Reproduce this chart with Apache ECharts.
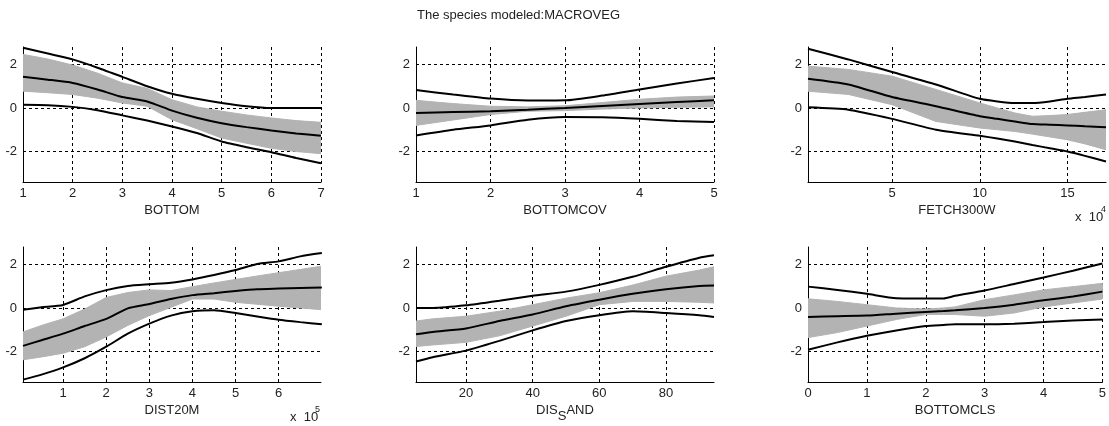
<!DOCTYPE html>
<html>
<head>
<meta charset="utf-8">
<title>MACROVEG</title>
<script src="https://cdn.jsdelivr.net/npm/echarts@6/dist/echarts.min.js"></script>
<style>
  html, body { margin: 0; padding: 0; background: #fff; }
  #chart { width: 1109px; height: 426px; }
</style>
</head>
<body>
<div id="chart"></div>
<script>
// ---- data (x, upper / middle / lower black curves, grey band top / bottom) ----
var bottomX      = [1, 1.5, 2, 2.5, 3, 3.5, 4, 4.5, 5, 5.5, 6, 6.5, 7];
var bottomUpper  = [2.77, 2.5, 2.23, 1.85, 1.43, 1.0, 0.65, 0.42, 0.23, 0.08, 0.0, 0.0, 0.0];
var bottomMid    = [1.43, 1.3, 1.15, 0.85, 0.5, 0.3, -0.12, -0.45, -0.7, -0.88, -1.03, -1.17, -1.28];
var bottomLower  = [0.15, 0.13, 0.05, -0.1, -0.34, -0.58, -0.85, -1.15, -1.54, -1.8, -2.03, -2.3, -2.54];
var bottomBandHi = [2.46, 2.25, 1.97, 1.6, 1.15, 0.9, 0.38, 0.05, -0.15, -0.32, -0.46, -0.58, -0.66];
var bottomBandLo = [0.77, 0.7, 0.62, 0.45, 0.23, 0.08, -0.54, -0.95, -1.38, -1.62, -1.85, -2.0, -2.1];
var bottomTicks  = [1, 2, 3, 4, 5, 6, 7];

var covX      = [1, 1.5, 2, 2.5, 3, 3.5, 4, 4.5, 5];
var covUpper  = [0.82, 0.62, 0.43, 0.34, 0.35, 0.57, 0.85, 1.12, 1.38];
var covMid    = [-0.23, -0.19, -0.15, -0.08, 0.0, 0.09, 0.18, 0.27, 0.35];
var covLower  = [-1.26, -1.0, -0.8, -0.54, -0.42, -0.43, -0.5, -0.6, -0.65];
var covBandHi = [0.35, 0.2, 0.08, 0.05, 0.1, 0.25, 0.4, 0.5, 0.55];
var covBandLo = [-0.8, -0.55, -0.3, -0.15, -0.12, -0.05, 0.0, 0.03, 0.05];
var covTicks  = [1, 2, 3, 4, 5];

// FETCH300W, x in units of 10^4
var fetchX      = [0.2, 2.5, 5, 7.5, 10, 11, 12, 13, 14, 15, 16, 17.2];
var fetchUpper  = [2.72, 2.23, 1.65, 1.08, 0.42, 0.3, 0.23, 0.23, 0.3, 0.42, 0.5, 0.62];
var fetchMid    = [1.34, 1.08, 0.5, 0.08, -0.38, -0.5, -0.62, -0.74, -0.77, -0.8, -0.84, -0.88];
var fetchLower  = [0.03, -0.08, -0.5, -1.0, -1.28, -1.4, -1.54, -1.7, -1.85, -2.0, -2.2, -2.46];
var fetchBandHi = [1.92, 1.77, 1.46, 0.85, 0.23, 0.0, -0.23, -0.38, -0.35, -0.3, -0.2, -0.08];
var fetchBandLo = [0.77, 0.62, 0.15, -0.62, -0.92, -1.0, -1.08, -1.2, -1.33, -1.46, -1.65, -1.92];
var fetchTicks  = [5, 10, 15];

// DIST20M, x in units of 10^5
var distX      = [0.07, 0.5, 1, 1.5, 2, 2.5, 3, 3.5, 4, 4.5, 5, 5.5, 6, 6.5, 7];
var distUpper  = [-0.08, 0.03, 0.14, 0.53, 0.82, 1.01, 1.09, 1.16, 1.31, 1.51, 1.74, 2.02, 2.14, 2.37, 2.52];
var distMid    = [-1.74, -1.48, -1.18, -0.83, -0.5, -0.02, 0.18, 0.41, 0.59, 0.68, 0.78, 0.86, 0.89, 0.92, 0.94];
var distLower  = [-3.29, -3.06, -2.73, -2.31, -1.78, -1.18, -0.72, -0.35, -0.15, -0.1, -0.23, -0.39, -0.54, -0.65, -0.75];
var distBandHi = [-1.1, -0.8, -0.5, -0.05, 0.48, 0.71, 0.83, 0.8, 0.98, 1.15, 1.31, 1.47, 1.62, 1.77, 1.92];
var distBandLo = [-2.38, -2.25, -2.08, -1.78, -1.33, -0.8, -0.35, 0.03, 0.41, 0.41, 0.26, 0.17, 0.08, 0.0, -0.08];
var distTicks  = [1, 2, 3, 4, 5, 6];

var sandX      = [5, 10, 20, 30, 40, 50, 60, 70, 80, 90, 94.4];
var sandUpper  = [0.0, 0.0, 0.12, 0.33, 0.56, 0.75, 1.06, 1.43, 1.89, 2.31, 2.42];
var sandMid    = [-1.21, -1.1, -0.94, -0.6, -0.3, 0.08, 0.38, 0.65, 0.86, 1.01, 1.03];
var sandLower  = [-2.46, -2.26, -1.96, -1.51, -1.03, -0.6, -0.33, -0.15, -0.23, -0.33, -0.41];
var sandBandHi = [-0.6, -0.5, -0.38, -0.15, 0.15, 0.45, 0.7, 1.05, 1.46, 1.74, 1.89];
var sandBandLo = [-1.77, -1.7, -1.58, -1.28, -0.83, -0.38, 0.15, 0.3, 0.3, 0.26, 0.23];
var sandTicks  = [20, 40, 60, 80];

var clsX      = [0, 0.5, 1, 1.5, 2, 2.3, 2.5, 3, 3.5, 4, 4.5, 5];
var clsUpper  = [0.98, 0.83, 0.65, 0.45, 0.44, 0.44, 0.56, 0.8, 1.1, 1.4, 1.71, 2.04];
var clsMid    = [-0.41, -0.38, -0.35, -0.26, -0.18, -0.14, -0.11, 0.0, 0.15, 0.35, 0.53, 0.75];
var clsLower  = [-1.92, -1.58, -1.28, -1.03, -0.83, -0.78, -0.75, -0.75, -0.72, -0.65, -0.57, -0.53];
var clsBandHi = [0.42, 0.3, 0.15, 0.0, -0.05, 0.0, 0.05, 0.38, 0.6, 0.83, 0.98, 1.13];
var clsBandLo = [-1.36, -1.13, -0.83, -0.53, -0.3, -0.3, -0.3, -0.38, -0.23, 0.05, 0.23, 0.41];
var clsTicks  = [0, 1, 2, 3, 4, 5];

var yTicks = [-2, 0, 2];

var FONT = "'Liberation Sans', Arial, sans-serif";
var TXT = '#222';

// one entry per subplot
var panels = [
  { name: 'BOTTOM',    x: bottomX, up: bottomUpper, mid: bottomMid, lo: bottomLower, hi: bottomBandHi, blo: bottomBandLo, ticks: bottomTicks, min: 1,    max: 7,    left: 23,  top: 47 },
  { name: 'BOTTOMCOV', x: covX,    up: covUpper,    mid: covMid,    lo: covLower,    hi: covBandHi,    blo: covBandLo,    ticks: covTicks,    min: 1,    max: 5,    left: 416, top: 47 },
  { name: 'FETCH300W', x: fetchX,  up: fetchUpper,  mid: fetchMid,  lo: fetchLower,  hi: fetchBandHi,  blo: fetchBandLo,  ticks: fetchTicks,  min: 0.2,  max: 17.2, left: 808, top: 47 },
  { name: 'DIST20M',   x: distX,   up: distUpper,   mid: distMid,   lo: distLower,   hi: distBandHi,   blo: distBandLo,   ticks: distTicks,   min: 0.07, max: 6.98, left: 23,  top: 247 },
  { name: '{n|DIS}{s|S}{n|AND}', x: sandX, up: sandUpper, mid: sandMid, lo: sandLower, hi: sandBandHi, blo: sandBandLo, ticks: sandTicks, min: 5, max: 94.4, left: 416, top: 247 },
  { name: 'BOTTOMCLS', x: clsX,    up: clsUpper,    mid: clsMid,    lo: clsLower,    hi: clsBandHi,    blo: clsBandLo,    ticks: clsTicks,    min: 0,    max: 5,    left: 808, top: 247 }
];

var grids = [], xAxes = [], yAxes = [], series = [];

var dashed = { color: '#000', type: [3, 3], width: 1 };

panels.forEach(function (p, i) {
  grids.push({ left: p.left, top: p.top, width: 298, height: 135 });

  xAxes.push({
    type: 'value', gridIndex: i, min: p.min, max: p.max,
    axisLine: { show: true, onZero: false, lineStyle: { color: '#000', width: 1 } },
    axisTick: { show: true, inside: true, length: 3, customValues: p.ticks, lineStyle: { color: '#000' } },
    axisLabel: { customValues: p.ticks, color: TXT, fontSize: 13, fontFamily: FONT, margin: 5 },
    splitLine: { show: true, lineStyle: dashed },
    name: p.name, nameLocation: 'middle', nameGap: 22,
    nameTextStyle: {
      color: TXT, fontSize: 13, fontFamily: FONT,
      rich: {
        n: { color: TXT, fontSize: 13, fontFamily: FONT, lineHeight: 13, verticalAlign: 'top' },
        s: { color: TXT, fontSize: 13, fontFamily: FONT, lineHeight: 19, verticalAlign: 'bottom' }
      }
    }
  });

  yAxes.push({
    type: 'value', gridIndex: i, min: -3.4, max: 2.8,
    axisLine: { show: true, onZero: false, lineStyle: { color: '#000', width: 1 } },
    axisTick: { show: true, inside: true, length: 3, customValues: yTicks, lineStyle: { color: '#000' } },
    axisLabel: { customValues: yTicks, color: TXT, fontSize: 13, fontFamily: FONT, margin: 6 },
    splitLine: { show: true, lineStyle: dashed }
  });

  // grey band of bootstrap curves, drawn as one polygon between top and bottom
  var bandData = p.x.map(function (v, k) { return [v, p.hi[k], p.blo[k]]; });
  series.push({
    type: 'custom', xAxisIndex: i, yAxisIndex: i, silent: true, clip: true,
    encode: { x: 0, y: [1, 2] },
    data: bandData,
    renderItem: function (params, api) {
      if (params.dataIndex !== 0) return null;
      var pts = [];
      for (var k = 0; k < bandData.length; k++) pts.push(api.coord([bandData[k][0], bandData[k][1]]));
      for (var k2 = bandData.length - 1; k2 >= 0; k2--) pts.push(api.coord([bandData[k2][0], bandData[k2][2]]));
      return { type: 'polygon', shape: { points: pts }, style: { fill: '#b3b3b3', stroke: '#b3b3b3', lineWidth: 1 } };
    }
  });

  [p.up, p.mid, p.lo].forEach(function (arr) {
    series.push({
      type: 'line', xAxisIndex: i, yAxisIndex: i, symbol: 'none', smooth: 0.2, silent: true,
      lineStyle: { color: '#000', width: 2 },
      data: p.x.map(function (v, k) { return [v, arr[k]]; })
    });
  });
});

var option = {
  backgroundColor: '#fff',
  animation: false,
  title: {
    text: 'The species modeled:MACROVEG', left: 417, top: 9, padding: 0,
    textStyle: { color: TXT, fontSize: 13, fontWeight: 'normal', fontFamily: FONT }
  },
  grid: grids,
  xAxis: xAxes,
  yAxis: yAxes,
  series: series,
  // axis multipliers under the FETCH300W and DIST20M plots
  graphic: [
    { type: 'text', left: 1075, top: 211, style: { text: 'x  10', fill: TXT, font: '13px ' + FONT } },
    { type: 'text', left: 1101, top: 205, style: { text: '4', fill: TXT, font: '9px ' + FONT } },
    { type: 'text', left: 290, top: 411, style: { text: 'x  10', fill: TXT, font: '13px ' + FONT } },
    { type: 'text', left: 315, top: 405, style: { text: '5', fill: TXT, font: '9px ' + FONT } }
  ]
};

var chartObj = echarts.init(document.getElementById('chart'));
chartObj.setOption(option);
</script>
</body>
</html>
